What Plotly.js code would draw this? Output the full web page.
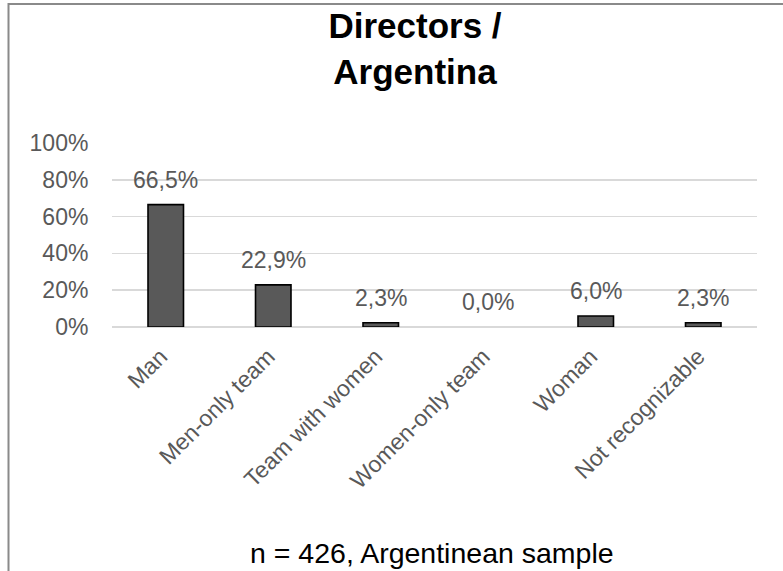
<!DOCTYPE html>
<html>
<head>
<meta charset="utf-8">
<script src="https://cdn.plot.ly/plotly-3.0.1.min.js"></script>
<style>html,body{margin:0;padding:0;background:#fff;}#chart{width:783px;height:571px;}</style>
</head>
<body>
<div id="chart"></div>
<script>
const categories = ["Man", "Men-only team", "Team with women", "Women-only team", "Woman", "Not recognizable"];
const values = [0.665, 0.229, 0.023, 0.0, 0.060, 0.023];
const valueLabels = ["66,5%", "22,9%", "2,3%", "0,0%", "6,0%", "2,3%"];
const yTickVals = [0, 0.2, 0.4, 0.6, 0.8, 1.0];
const yTickText = ["0%", "20%", "40%", "60%", "80%", "100%"];
const titleText = "Directors /<br>Argentina";
const noteText = "n = 426, Argentinean sample";

const FONT = "Liberation Sans, Arial, sans-serif";

const trace = {
  type: "bar",
  x: categories,
  y: values,
  width: 0.33,
  marker: {
    color: "#595959",
    line: { color: "#000000", width: values.map(v => (v > 0 ? 1.6 : 0)) }
  },
  hoverinfo: "skip"
};

const labelAnnotations = categories.map((c, i) => ({
  x: c, y: values[i], xref: "x", yref: "y",
  text: valueLabels[i], showarrow: false,
  yanchor: "bottom", yshift: 10,
  font: { family: FONT, size: 23, color: "#595959" }
}));

const layout = {
  width: 783, height: 571,
  margin: { l: 112, r: 26, t: 143, b: 244 },
  paper_bgcolor: "#ffffff", plot_bgcolor: "#ffffff",
  showlegend: false,
  title: {
    text: titleText,
    x: 415 / 783, xref: "container", xanchor: "center",
    y: 0.933, yref: "container", yanchor: "top",
    font: { family: FONT, size: 35, color: "#000000", weight: "bold" }
  },
  xaxis: {
    type: "category",
    tickangle: -45,
    tickfont: { family: FONT, size: 23, color: "#595959" },
    ticks: "outside", ticklen: 6, tickcolor: "rgba(0,0,0,0)",
    ticklabelshift: -5,
    showgrid: false, showline: false, zeroline: false
  },
  yaxis: {
    range: [0, 1.0],
    tickvals: yTickVals, ticktext: yTickText,
    tickfont: { family: FONT, size: 23, color: "#595959" },
    ticks: "outside", ticklen: 18, tickcolor: "rgba(0,0,0,0)",
    showgrid: true, gridcolor: "#d9d9d9", gridwidth: 1.5,
    zeroline: true, zerolinecolor: "#d9d9d9", zerolinewidth: 1.5,
    showline: false
  },
  shapes: [{
    type: "rect", xref: "paper", yref: "paper",
    x0: (8.5 - 112) / 645, x1: 2, y0: -3, y1: (327 - 4) / 184,
    line: { color: "#8a8a8a", width: 2 }, fillcolor: "rgba(0,0,0,0)", layer: "below"
  }],
  annotations: labelAnnotations.concat([{
    x: (431.5 - 112) / 645, y: (327 - 553) / 184, xref: "paper", yref: "paper",
    xanchor: "center", yanchor: "middle",
    text: noteText, showarrow: false,
    font: { family: FONT, size: 28.5, color: "#000000" }
  }])
};

Plotly.newPlot("chart", [trace], layout, { displayModeBar: false, staticPlot: true });
</script>
</body>
</html>
